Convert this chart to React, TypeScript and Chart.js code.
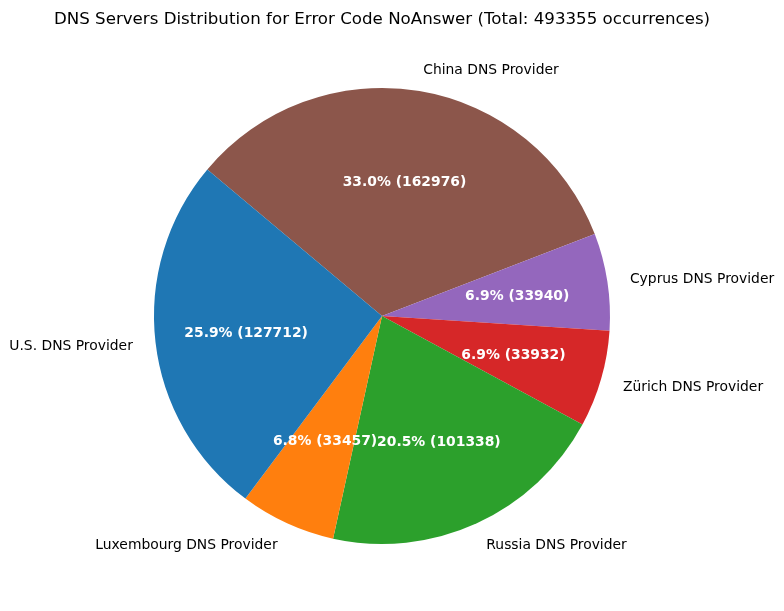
import React, { useEffect, useRef } from "react";
import { Chart, registerables } from "chart.js";

Chart.register(...registerables);

// Clockwise order as drawn by Chart.js (matplotlib draws the reverse counter-clockwise)
const categories = [
  "China DNS Provider",
  "Cyprus DNS Provider",
  "Zürich DNS Provider",
  "Russia DNS Provider",
  "Luxembourg DNS Provider",
  "U.S. DNS Provider",
];
const counts = [162976, 33940, 33932, 101338, 33457, 127712];
const colors = ["#8c564b", "#9467bd", "#d62728", "#2ca02c", "#ff7f0e", "#1f77b4"];
const titleText = "DNS Servers Distribution for Error Code NoAnswer (Total: 493355 occurrences)";

const FONT = "DejaVu Sans, Verdana, sans-serif";

const labelPlugin = {
  id: "mplLabels",
  afterDraw(chart: any) {
    const ctx = chart.ctx;
    const meta = chart.getDatasetMeta(0);
    const total = counts.reduce((a, b) => a + b, 0);
    ctx.save();
    // title
    ctx.fillStyle = "#000";
    ctx.font = `16.67px ${FONT}`;
    ctx.textAlign = "center";
    ctx.textBaseline = "middle";
    ctx.fillText(titleText, chart.width / 2 - 10, 19.5);
    meta.data.forEach((arc: any, i: number) => {
      const mid = (arc.startAngle + arc.endAngle) / 2;
      const r = arc.outerRadius;
      const cx = arc.x;
      const cy = arc.y;
      // outer label
      const lx = cx + Math.cos(mid) * r * 1.1;
      const ly = cy + Math.sin(mid) * r * 1.1 + 1.5;
      ctx.fillStyle = "#000";
      ctx.font = `13.89px ${FONT}`;
      ctx.textAlign = Math.cos(mid) > 0 ? "left" : "right";
      ctx.textBaseline = "middle";
      ctx.fillText(categories[i], lx, ly);
      // percentage label
      const px = cx + Math.cos(mid) * r * 0.6;
      const py = cy + Math.sin(mid) * r * 0.6 + 1.5;
      const pct = ((counts[i] / total) * 100).toFixed(1);
      ctx.fillStyle = "#fff";
      ctx.font = `bold 13.89px ${FONT}`;
      ctx.textAlign = "center";
      ctx.fillText(`${pct}% (${counts[i]})`, px, py);
    });
    ctx.restore();
  },
};

export default function App() {
  const ref = useRef<HTMLCanvasElement>(null);
  useEffect(() => {
    if (!ref.current) return;
    const chart = new Chart(ref.current, {
      type: "pie",
      data: {
        labels: categories,
        datasets: [
          {
            data: counts,
            backgroundColor: colors,
            borderWidth: 0,
          },
        ],
      },
      options: {
        responsive: false,
        animation: false,
        rotation: -50,
        layout: { padding: { left: 154, right: 174, top: 88, bottom: 67 } },
        plugins: {
          legend: { display: false },
          tooltip: { enabled: false },
          title: { display: false },
        },
      },
      plugins: [labelPlugin],
    });
    return () => chart.destroy();
  }, []);
  return (
    <div style={{ position: "fixed", left: 0, top: 0, width: 784, height: 611, background: "#fff" }}>
      <canvas ref={ref} width={784} height={611} style={{ width: 784, height: 611, display: "block" }} />
    </div>
  );
}
